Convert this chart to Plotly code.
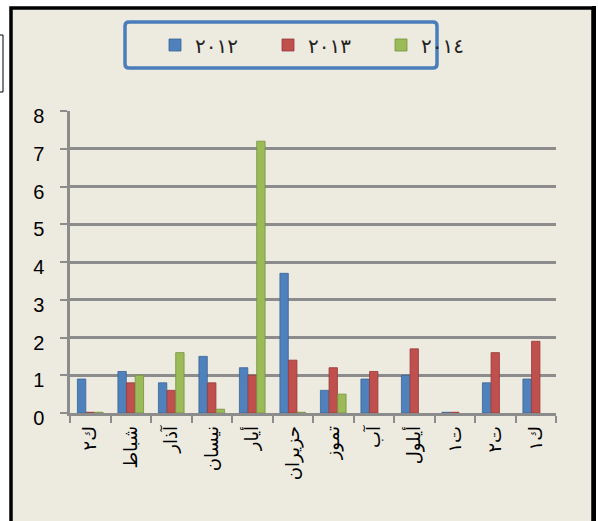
import plotly.graph_objects as go

W, H = 598, 521

months = ["ك٢", "شباط", "آذار", "نيسان", "أيار", "حزيران", "تموز", "آب", "أيلول", "ت١", "ت٢", "ك١"]
series_names = ["٢٠١٢", "٢٠١٣", "٢٠١٤"]
v2012 = [0.9, 1.1, 0.8, 1.5, 1.2, 3.7, 0.6, 0.9, 1.0, 0.02, 0.8, 0.9]
v2013 = [0.02, 0.8, 0.6, 0.8, 1.0, 1.4, 1.2, 1.1, 1.7, 0.02, 1.6, 1.9]
v2014 = [0.02, 1.0, 1.6, 0.1, 7.2, 0.02, 0.5, None, None, None, None, None]
y_ticks = [0, 1, 2, 3, 4, 5, 6, 7, 8]

colors = ["#4F81BD", "#C0504D", "#9BBB59"]
edges = ["#3A6496", "#943B39", "#76923C"]

fig = go.Figure()
for name, vals, c, e in zip(series_names, [v2012, v2013, v2014], colors, edges):
    fig.add_trace(go.Bar(x=months, y=vals, name=name,
                         marker=dict(color=c, line=dict(color=e, width=0.8))))

def px_x(p):
    return p / W

def px_y(p):
    return 1 - p / H

beige = "#EDEAE0"
shapes = [
    dict(type="rect", xref="paper", yref="paper", x0=px_x(11), x1=px_x(593), y0=px_y(525), y1=px_y(8),
         line=dict(color="black", width=3.5), fillcolor=beige, layer="below"),
    dict(type="line", xref="paper", yref="paper", x0=px_x(594), x1=px_x(594), y0=px_y(530), y1=px_y(6),
         line=dict(color="black", width=4), layer="below"),
    dict(type="rect", xref="paper", yref="paper", x0=px_x(-5), x1=px_x(3), y0=px_y(92), y1=px_y(35),
         line=dict(color="black", width=1), fillcolor="white", layer="below"),
]
lx0, lx1, ly0, ly1, r = 125, 437, 22, 68, 4
path = (f"M {px_x(lx0 + r)},{px_y(ly0)} L {px_x(lx1 - r)},{px_y(ly0)} "
        f"Q {px_x(lx1)},{px_y(ly0)} {px_x(lx1)},{px_y(ly0 + r)} "
        f"L {px_x(lx1)},{px_y(ly1 - r)} Q {px_x(lx1)},{px_y(ly1)} {px_x(lx1 - r)},{px_y(ly1)} "
        f"L {px_x(lx0 + r)},{px_y(ly1)} Q {px_x(lx0)},{px_y(ly1)} {px_x(lx0)},{px_y(ly1 - r)} "
        f"L {px_x(lx0)},{px_y(ly0 + r)} Q {px_x(lx0)},{px_y(ly0)} {px_x(lx0 + r)},{px_y(ly0)} Z")
shapes.append(dict(type="path", xref="paper", yref="paper", path=path,
                   line=dict(color="#4A7EBB", width=3.5), fillcolor=beige, layer="below"))

fig.update_layout(
    width=W, height=H,
    margin=dict(l=0, r=0, t=0, b=0, pad=0),
    paper_bgcolor="white",
    plot_bgcolor="rgba(0,0,0,0)",
    barmode="group",
    bargap=0.36,
    bargroupgap=0.03,
    shapes=shapes,
    showlegend=True,
    legend=dict(orientation="h", x=px_x(155), y=px_y(45), xanchor="left", yanchor="middle",
                bgcolor="rgba(0,0,0,0)", borderwidth=0,
                font=dict(family="DejaVu Serif, DejaVu Sans", size=20, color="#222"),
                entrywidth=68, entrywidthmode="pixels", itemwidth=30),
    xaxis=dict(domain=[px_x(70), px_x(556)], type="category", automargin=False,
               showline=True, linecolor="#8C8C8C", linewidth=2.5,
               ticks="outside", tickson="boundaries", ticklen=7, tickcolor="#8C8C8C", tickwidth=2,
               tickangle=-90, showgrid=False, ticklabelstandoff=3,
               tickfont=dict(family="DejaVu Sans", size=18, color="black")),
    yaxis=dict(domain=[1 - 413 / H, 1 - 111 / H], range=[0, 8], tickvals=y_ticks, automargin=False,
               showline=True, linecolor="#8C8C8C", linewidth=2.5,
               ticks="outside", ticklen=7, tickcolor="#8C8C8C", tickwidth=2,
               showgrid=True, gridcolor="#8C8C8C", gridwidth=2.5, zeroline=False,
               ticklabelstandoff=12, ticklabelshift=5,
               tickfont=dict(family="Liberation Sans", size=20, color="black")),
)

fig.write_html(
    "out.html",
    config={"displayModeBar": False},
    post_script="document.body.style.margin='0';document.body.style.overflow='hidden';"
                "document.documentElement.style.overflow='hidden';",
)
